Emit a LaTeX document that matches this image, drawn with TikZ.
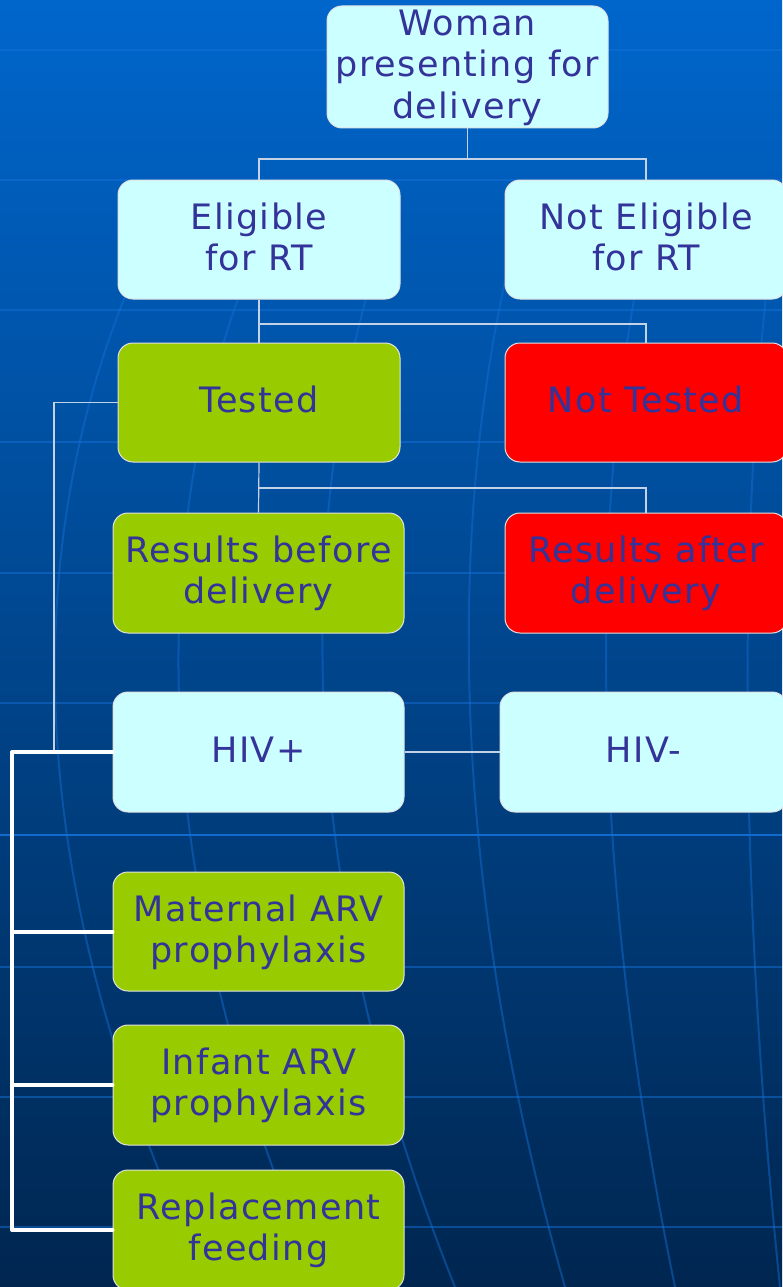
\documentclass[tikz,border=0pt]{standalone}
\usepackage{fontspec}
\newfontfamily\boxfont[LetterSpace=4]{DejaVu Sans}
\newcommand\lstr{\rule[-10pt]{0pt}{40pt}}
\definecolor{bgtop}{RGB}{0,102,204}
\definecolor{bgmid}{RGB}{0,82,165}
\definecolor{bgbot}{RGB}{0,38,80}
\definecolor{gridc}{RGB}{20,112,215}
\definecolor{boxgreen}{RGB}{153,204,0}
\definecolor{boxred}{RGB}{255,0,0}
\definecolor{boxcyan}{RGB}{204,255,255}
\definecolor{txt}{RGB}{51,51,153}
\definecolor{boxline}{RGB}{225,225,225}
\definecolor{conn}{RGB}{195,210,230}
\tikzset{
  box/.style={rounded corners=15pt, draw=boxline, line width=1pt, minimum width=282pt,
    minimum height=120pt, inner sep=0pt, align=center, text=txt,
    font=\boxfont\fontsize{35}{41}\selectfont},
  cyanbox/.style={box, fill=boxcyan},
  greenbox/.style={box, fill=boxgreen},
  redbox/.style={box, fill=boxred},
  thinconn/.style={draw=conn, line width=1.2pt},
  thickconn/.style={draw=white, line width=4pt, line join=round, line cap=round},
  gridline/.style={draw=gridc, line width=2.5pt, opacity=0.5},
  meridian/.style={draw=gridc, line width=2pt, opacity=0.45}
}
\begin{document}
\begin{tikzpicture}[x=1pt,y=-1pt]
\useasboundingbox (0,0) rectangle (782,1287);
% background
\shade[top color=bgtop, middle color=bgmid, bottom color=bgbot] (0,0) rectangle (782,1287);
\foreach \yy in {50,180,310,442,573,703,967,1097,1227}{
  \draw[gridline] (0,\yy) -- (782,\yy);
}
\draw[gridline, opacity=0.9] (0,835) -- (782,835);
\draw[meridian] (170,200) .. controls (20,480) and (0,850) .. (210,1287);
\draw[meridian] (270,220) .. controls (150,480) and (130,850) .. (320,1287);
\draw[meridian] (390,220) .. controls (300,480) and (280,850) .. (455,1287);
\draw[meridian] (520,220) .. controls (450,480) and (440,850) .. (565,1287);
\draw[meridian] (650,220) .. controls (590,480) and (585,850) .. (675,1287);
\draw[meridian] (775,220) .. controls (740,480) and (735,850) .. (780,1287);

% nodes
\node[cyanbox, minimum width=281pt] (wo) at (467.5,67) {\lstr Woman\\\lstr presenting for\\\lstr delivery};
\node[cyanbox, minimum height=119pt] (el) at (259,239.5) {\lstr Eligible\\\lstr for RT};
\node[cyanbox, minimum height=119pt] (ne) at (646,239.5) {\lstr Not Eligible\\\lstr for RT};
\node[greenbox, minimum height=119pt] (te) at (259,402.5) {\lstr Tested};
\node[redbox, minimum height=119pt] (nt) at (646,402.5) {\lstr Not Tested};
\node[greenbox, minimum width=291pt] (rb) at (258.5,573) {\lstr Results before\\\lstr delivery};
\node[redbox] (ra) at (646,573) {\lstr Results after\\\lstr delivery};
\node[cyanbox, minimum width=291pt] (hp) at (258.5,752) {\lstr HIV+};
\node[cyanbox, minimum width=287pt] (hn) at (643.5,752) {\lstr HIV-};
\node[greenbox, minimum width=291pt, minimum height=119pt] (ma) at (258.5,931.5) {\lstr Maternal ARV\\\lstr prophylaxis};
\node[greenbox, minimum width=291pt] (ia) at (258.5,1085) {\lstr Infant ARV\\\lstr prophylaxis};
\node[greenbox, minimum width=291pt] (rf) at (258.5,1230) {\lstr Replacement\\\lstr feeding};

% connector coordinates
\coordinate (b1) at (0,159);
\coordinate (b2) at (0,324);
\coordinate (b3) at (0,488);
\coordinate (xa) at (54,0);
\coordinate (xb) at (12,0);

% thin connectors
\draw[thinconn] (wo.south) -- (wo.south |- b1);
\draw[thinconn] (el.north) -- (el.north |- b1) -| (ne.north);
\draw[thinconn] (el.south) -- (te.north);
\draw[thinconn] (el.south |- b2) -| (nt.north);
\draw[thinconn] (te.south) -- (rb.north);
\draw[thinconn] (te.south |- b3) -| (ra.north);
\draw[thinconn] (te.west) -- (te.west -| xa) -- (xa |- hp.west) -- (hp.west);
\draw[thinconn] (hp.east) -- (hn.west);

% thick connectors
\draw[thickconn] (hp.west) -- (hp.west -| xb) -- (xb |- rf.west) -- (rf.west);
\draw[thickconn] (xb |- ma.west) -- (ma.west);
\draw[thickconn] (xb |- ia.west) -- (ia.west);
\end{tikzpicture}
\end{document}
